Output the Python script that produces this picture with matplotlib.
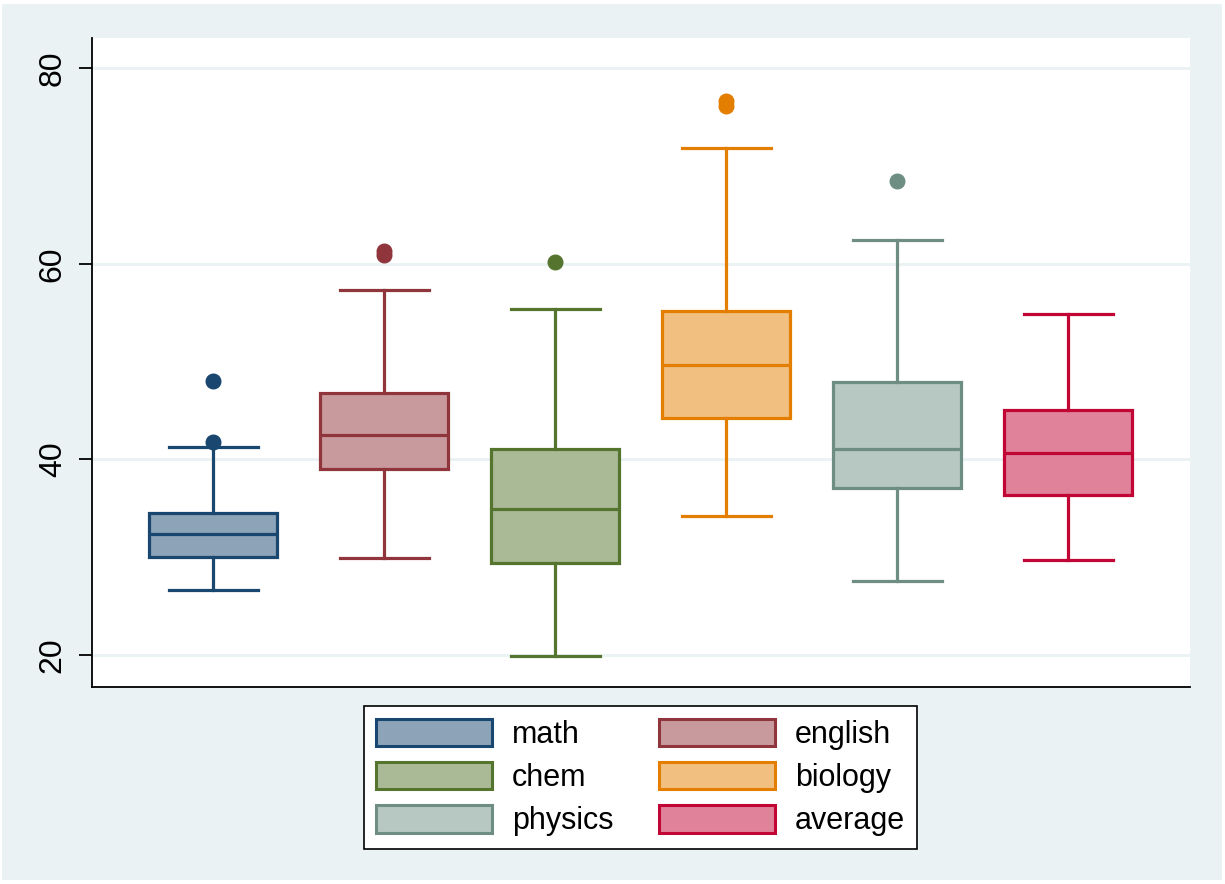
import matplotlib.pyplot as plt
from matplotlib.patches import Patch, Rectangle

plt.rcParams['font.family'] = ['Liberation Sans', 'DejaVu Sans']

subjects = ['math', 'english', 'chem', 'biology', 'physics', 'average']
whislo = [26.6, 29.9, 19.9, 34.2, 27.5, 29.7]
q1 = [30.0, 39.0, 29.4, 44.2, 37.1, 36.3]
med = [32.4, 42.5, 34.9, 49.6, 41.0, 40.6]
q3 = [34.5, 46.8, 41.1, 55.2, 47.9, 45.0]
whishi = [41.3, 57.3, 55.4, 71.8, 62.4, 54.9]
outliers = [[41.8, 48.0], [60.9, 61.3], [60.2], [76.1, 76.7], [68.5], []]

line_colors = ['#1a476f', '#90353b', '#55752f', '#e37e00', '#6e8e84', '#c10534']
fill_colors = ['#8da3b7', '#c89a9d', '#aaba97', '#f1bf80', '#b7c7c2', '#e0829a']
bg = '#eaf2f3'

fig = plt.figure(figsize=(12.25, 8.84), dpi=100, facecolor='white')
fig.patches.append(Rectangle((2 / 1225, 4 / 884), 1220 / 1225, 876 / 884,
                             transform=fig.transFigure, facecolor=bg,
                             edgecolor='none', zorder=-5))
ax = fig.add_axes([92 / 1225, 1 - 687 / 884, 1098 / 1225, 649 / 884])
ax.set_zorder(2)
ax.set_facecolor('white')

stats = []
for i, name in enumerate(subjects):
    stats.append({'label': name, 'whislo': whislo[i], 'q1': q1[i], 'med': med[i],
                  'q3': q3[i], 'whishi': whishi[i], 'fliers': outliers[i]})

for i, st in enumerate(stats):
    c = line_colors[i]
    ax.bxp([st], positions=[i + 1], widths=0.75, patch_artist=True,
           boxprops=dict(facecolor=fill_colors[i], edgecolor=c, linewidth=2.3),
           medianprops=dict(color=c, linewidth=2.3),
           whiskerprops=dict(color=c, linewidth=2.3),
           capprops=dict(color=c, linewidth=2.3),
           capwidths=0.52,
           flierprops=dict(marker='o', markerfacecolor=c, markeredgecolor=c,
                           markersize=10.5))

ax.set_xlim(0.292, 6.713)
ax.set_ylim(16.7, 83.1)
ax.set_yticks([20, 40, 60, 80])
ax.set_xticks([])
ax.yaxis.grid(True, color=bg, linewidth=2)
ax.set_axisbelow(True)
ax.tick_params(axis='y', length=9.4, width=1.3, labelsize=23, pad=8)
for lab in ax.get_yticklabels():
    lab.set_rotation(90)
    lab.set_va('center')
for s in ['top', 'right']:
    ax.spines[s].set_visible(False)
ax.spines['left'].set_linewidth(1.3)
ax.spines['bottom'].set_linewidth(1.3)

handles = [Patch(facecolor=fill_colors[i], edgecolor=line_colors[i], linewidth=2.2,
                 label=subjects[i]) for i in range(6)]
# row-wise legend order: math english / chem biology / physics average
order = [0, 2, 4, 1, 3, 5]
leg = fig.legend([handles[k] for k in order], [subjects[k] for k in order],
                 ncol=2, loc='center', bbox_to_anchor=(640.5 / 1225, 1 - 777.5 / 884),
                 fontsize=22, frameon=True, fancybox=False, edgecolor='black',
                 facecolor='white', framealpha=1,
                 handlelength=3.8, handleheight=1.0, handletextpad=0.65,
                 columnspacing=1.5, labelspacing=0.4, borderpad=0.4,
                 borderaxespad=0)
leg.get_frame().set_linewidth(1.2)

fig.savefig('out.png', dpi=100, facecolor='white')
